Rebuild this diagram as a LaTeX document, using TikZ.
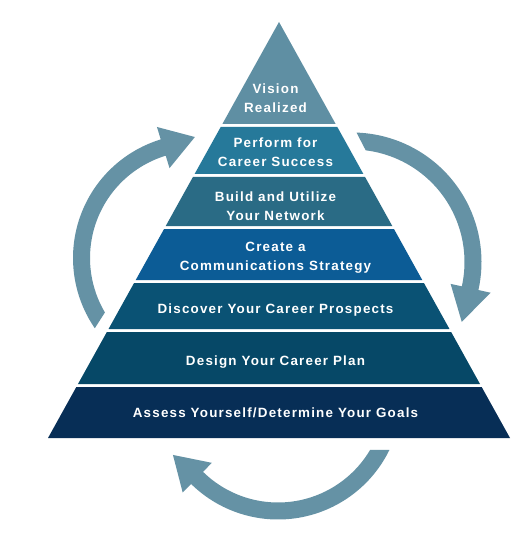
\documentclass[tikz,border=0pt]{standalone}
\usepackage{fontspec}
\newfontfamily\pyrfont{Liberation Sans}[LetterSpace=9]
\usetikzlibrary{calc}
\definecolor{cA}{HTML}{5F8FA3}
\definecolor{cB}{HTML}{26799A}
\definecolor{cC}{HTML}{2A6B85}
\definecolor{cD}{HTML}{0C5C96}
\definecolor{cE}{HTML}{0A5274}
\definecolor{cF}{HTML}{064867}
\definecolor{cG}{HTML}{072E56}
\definecolor{arrowc}{HTML}{6592A5}
\tikzset{
  lbl/.style={text=white, align=center, inner sep=0pt,
    font=\pyrfont\bfseries\fontsize{13.4}{19}\selectfont},
  cyc/.style={fill=arrowc}
}
\begin{document}
\begin{tikzpicture}[x=1pt,y=1pt]
\fill[white] (0,-553) rectangle (529,0);
\useasboundingbox (0,-553) rectangle (529,0);
% pyramid layers
\foreach \t/\b/\c in {22/124/cA,127/174/cB,177/226/cC,229/280/cD,283/329/cE,332/384/cF,387/438/cG}{
  \fill[\c] ({279-0.55529*(\t-22)},-\t) -- ({279+0.55529*(\t-22)},-\t)
     -- ({279+0.55529*(\b-22)},-\b) -- ({279-0.55529*(\b-22)},-\b) -- cycle;
}
% labels
\node[lbl] (l1) at (275.5,-98.5) {Vision\\Realized};
\node[lbl] (l2) at (275.5,-152.5) {Perform for\\Career Success};
\node[lbl] (l3) at (275.5,-206) {Build and Utilize\\Your Network};
\node[lbl] (l4) at (275.5,-257.5) {Create a\\Communications Strategy};
\node[lbl] (l5) at (275.5,-310) {Discover Your Career Prospects};
\node[lbl] (l6) at (275.5,-362) {Design Your Career Plan};
\node[lbl] (l7) at (275.5,-413) {Assess Yourself/Determine Your Goals};
% cycle arrows
\coordinate (cL) at (197,-258);
\coordinate (cR) at (352,-262);
\coordinate (cB) at (278,-395.5);
\fill[cyc] ($(cL)+(214.5:124)$) arc[start angle=214.5, end angle=107, radius=124]
  -- ($(cL)+(107:137)$) -- ($(cL)+(91:121)$) -- ($(cL)+(107:94)$)
  -- ($(cL)+(107:107)$) arc[start angle=107, end angle=210.6, radius=107] -- cycle;
\fill[cyc] ($(cR)+(88:129.5)$) arc[start angle=88, end angle=-12.5, radius=129.5]
  -- ($(cR)+(-12.5:142)$) -- ($(cR)+(-28.6:125)$) -- ($(cR)+(-12.5:101)$)
  -- ($(cR)+(-12.5:112.5)$) arc[start angle=-12.5, end angle=83, radius=112.5] -- cycle;
\fill[cyc] ($(cB)+(-26.07:124)$) arc[start angle=-26.07, end angle=-134.5, radius=124]
  -- ($(cB)+(-134.5:136)$) -- ($(cB)+(-150.5:120.7)$) -- ($(cB)+(-134.5:94.4)$)
  -- ($(cB)+(-134.5:107)$) arc[start angle=-134.5, end angle=-30.6, radius=107] -- cycle;
\end{tikzpicture}
\end{document}
